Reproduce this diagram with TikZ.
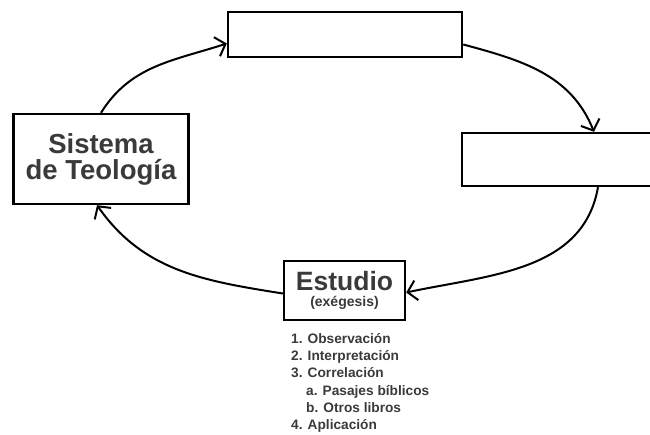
\documentclass[tikz,border=0pt]{standalone}
\usepackage{fontspec}
\setmainfont{Liberation Sans}
\usetikzlibrary{arrows.meta}
\definecolor{txtgray}{HTML}{3A3A3A}

\begin{document}
\begin{tikzpicture}[x=1pt,y=1pt,
    caja/.style={draw=black,line width=2.4pt,fill=white,inner sep=0pt},
    flecha/.style={line width=2pt,-{Straight Barb[length=9pt,width=20pt,line width=2pt]}}]
    \useasboundingbox (0,0) rectangle (650,435);
    % cajas ====================================================
    \node[caja,minimum width=175,minimum height=90,align=center,text=txtgray,
          font=\bfseries\fontsize{27.5}{26}\selectfont] (sist) at (101,276) {Sistema\\de Teología};
    \node[caja,minimum width=234,minimum height=45]  (arriba)  at (345,400.5) {};
    \node[caja,minimum width=200,minimum height=53]  (derecha) at (562,275.5) {};
    \node[caja,minimum width=121,minimum height=59,align=center,text=txtgray,
          font=\bfseries\fontsize{14}{12}\selectfont] (est) at (344.5,144.5)
          {{\fontsize{26.5}{26}\selectfont Estudio}\\[4pt](exégesis)};
    % lista ====================================================
    \node[anchor=north west,align=left,text=txtgray,inner sep=0pt,
          font=\bfseries\fontsize{13.7}{17.3}\selectfont] (pasos) at (291,102)
          {1. Observación\\2. Interpretación\\3. Correlación\\
           \hspace*{15pt}a. Pasajes bíblicos\\\hspace*{15pt}b. Otros libros\\4. Aplicación};
    % flechas ==================================================
    \draw[flecha] (sist.north) to[out=58,in=198] ([yshift=-9pt]arriba.west);
    \draw[flecha] ([yshift=-10pt]arriba.east) to[out=-15,in=112] ([xshift=32pt]derecha.north);
    \draw[flecha] ([xshift=36pt]derecha.south) to[out=-100,in=12] ([yshift=-2pt]est.east);
    \draw[flecha] ([yshift=-3pt]est.west) to[out=171,in=-55] ([xshift=-4pt]sist.south);
\end{tikzpicture}
\end{document}
